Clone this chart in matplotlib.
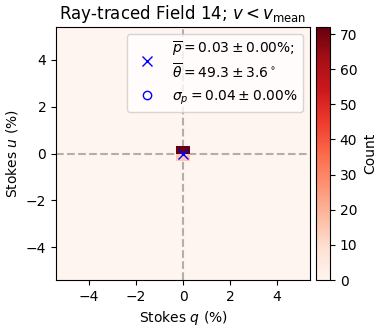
import matplotlib
matplotlib.use("Agg")
import matplotlib.pyplot as plt
import numpy as np
from matplotlib.patches import Circle

# histogram grid (Stokes q, u in %)
q_edges = np.arange(-5.7, 5.71, 0.6)
u_edges = np.linspace(-5.4, 5.4, 37)

# non-empty cells: (q centre, u centre, count)
cell_q = [0.0, 0.0]
cell_u = [0.15, -0.15]
cell_count = [72, 15]

p_mean, p_err = 0.03, 0.00
theta_mean, theta_err = 49.3, 3.6
sigma_p, sigma_err = 0.04, 0.00
mean_q, mean_u = 0.0, 0.0

counts = np.full((len(q_edges) - 1, len(u_edges) - 1), np.nan)
for q, u, c in zip(cell_q, cell_u, cell_count):
    i = np.searchsorted(q_edges, q) - 1
    j = np.searchsorted(u_edges, u) - 1
    counts[i, j] = c

cmap = plt.get_cmap("Reds")

fig = plt.figure(figsize=(3.89, 3.30), dpi=100)
ax = fig.add_axes([56 / 389, 50 / 330, 254 / 389, 253 / 330])
cax = fig.add_axes([316 / 389, 50 / 330, 14 / 389, 253 / 330])

ax.set_facecolor(cmap(0.0))
ax.axhline(0, color="gray", ls="--", alpha=0.6, zorder=0.5)
ax.axvline(0, color="gray", ls="--", alpha=0.6, zorder=0.5)
mesh = ax.pcolormesh(q_edges, u_edges, np.ma.masked_invalid(counts.T),
                     cmap=cmap, vmin=0, vmax=72, zorder=1)

ax.plot(mean_q, mean_u, "x", color="blue", ms=7, zorder=3,
        label="$\\overline{p}=%.2f\\pm%.2f\\%%$;\n$\\overline{\\theta}=%.1f\\pm%.1f^\\circ$"
        % (p_mean, p_err, theta_mean, theta_err))
ax.add_patch(Circle((mean_q, mean_u), sigma_p, fill=False, ec="blue", zorder=3))
ax.plot([], [], "o", mfc="none", mec="blue",
        label="$\\sigma_p=%.2f\\pm%.2f\\%%$" % (sigma_p, sigma_err))

ax.set_xlim(-5.4, 5.4)
ax.set_ylim(-5.4, 5.4)
ax.set_xticks([-4, -2, 0, 2, 4])
ax.set_yticks([-4, -2, 0, 2, 4])
ax.set_xlabel("Stokes $q$ (%)")
ax.set_ylabel("Stokes $u$ (%)")
ax.set_title("Ray-traced Field 14; $v < v_{\\rm mean}$")
ax.legend(loc="upper right")

cb = fig.colorbar(mesh, cax=cax)
cb.set_label("Count")
cb.set_ticks([0, 10, 20, 30, 40, 50, 60, 70])

fig.savefig("out.png", dpi=100)
